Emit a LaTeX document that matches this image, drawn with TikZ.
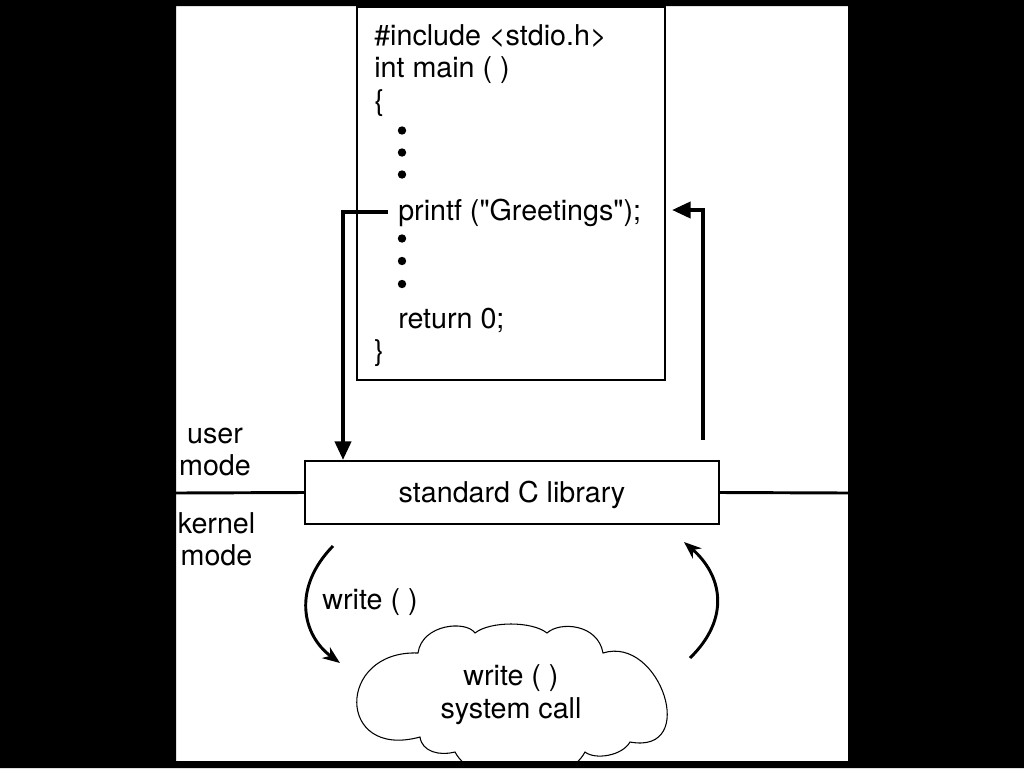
\documentclass[tikz,border=0pt]{standalone}
\usepackage{fontspec}
\setmainfont{TeX Gyre Heros}
\usetikzlibrary{arrows.meta}
\begin{document}
\begin{tikzpicture}[x=0.75pt,y=-0.75pt,
  txt/.style={inner sep=0pt, font=\fontsize{21.5}{24.4}\selectfont},
  code/.style={txt, anchor=base west},
  lbl/.style={txt, anchor=base},
  dotn/.style={circle, fill=black, inner sep=0pt, minimum size=6.3pt},
  boxline/.style={draw=black, line width=1.5pt, rectangle, inner sep=0pt},
  bigarrow/.style={line width=3pt, -{Triangle[length=14pt,width=12pt]}},
  curvearrow/.style={line width=2.2pt, -{Stealth[length=13pt,width=10pt,inset=4pt]}},
  modeline/.style={line width=2.2pt},
  cloudline/.style={draw=black, line width=0.8pt}]
\useasboundingbox (0,0) rectangle (1024,768);
\fill[white] (0,0) rectangle (1024,768);
% code box
\node[boxline, minimum width=231pt, minimum height=279.75pt] (code) at (511,193.5) {};
\node[code] (l1) at (374,45) {\#include \textless stdio.h\textgreater};
\node[code] (l2) at (374,77.5) {int main ( )};
\node[code] (l3) at (374,110) {\{};
\node[dotn] (d1) at (402,130.5) {};
\node[dotn] (d2) at (402,152.5) {};
\node[dotn] (d3) at (402,174.5) {};
\node[code] (printf) at (398,220) {printf (\textquotedbl Greetings\textquotedbl);};
\node[dotn] (d4) at (402,238.5) {};
\node[dotn] (d5) at (402,261) {};
\node[dotn] (d6) at (402,284) {};
\node[code] (ret) at (398,328) {return 0;};
\node[code] (l12) at (374,360) {\}};
% library
\node[boxline, minimum width=310.5pt, minimum height=47.25pt, txt, text height=15.7pt, text depth=0pt] (lib) at (512,492.5) {standard C library};
\coordinate (ml) at (176,493);
\coordinate (mr) at (848,493);
\draw[modeline] (ml) -- (lib.west);
\draw[modeline] (lib.east) -- (mr);
\node[lbl] (u1) at (215,443) {user};
\node[lbl] (u2) at (215,475) {mode};
\node[lbl] (k1) at (216.5,533) {kernel};
\node[lbl] (k2) at (216.5,565) {mode};
% arrows code <-> library
\coordinate (lx) at (343,0);
\draw[bigarrow] ([xshift=-7.5pt]printf.west) -| (lib.north -| lx);
\coordinate (rs) at (703,440);
\coordinate (rt) at (672,210);
\draw[bigarrow] (rs) |- (rt);
% cloud
\begin{scope}
\clip (176,6) rectangle (848,760);
\draw[cloudline, fill=white]
  (418,653) .. controls (422,624) and (466,620) .. (475,633)
  .. controls (490,621) and (532,621) .. (547,633)
  .. controls (560,621) and (598,624) .. (603,653)
  .. controls (660,635) and (700,755) .. (630,742)
  .. controls (622,756) and (595,760) .. (585,752)
  .. controls (565,790) and (475,790) .. (455,752)
  .. controls (440,756) and (422,752) .. (420,737)
  .. controls (336,760) and (336,650) .. cycle;
\end{scope}
\node[txt, align=center] (sys) at (511,694.5) {write ( )\\system call};
\node[txt] (wl) at (370,602) {write ( )};
\coordinate (c1) at (333,546);
\coordinate (c2) at (340,663);
\coordinate (c3) at (690,658);
\coordinate (c4) at (684,542);
\draw[curvearrow] (c1) .. controls (292,588) and (302,635) .. (c2);
\draw[curvearrow] (c3) .. controls (731,618) and (722,575) .. (c4);
% black frame
\fill[black, even odd rule] (0,0) rectangle (1024,768) (176,6) rectangle (848,761);
\end{tikzpicture}
\end{document}
